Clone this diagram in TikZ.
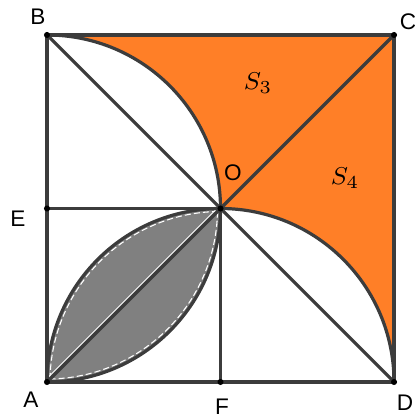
\documentclass[tikz,border=0pt]{standalone}
\usepackage{fontspec}
\setsansfont{Liberation Sans}
\usepackage{xcolor}
\usepackage{tikz}
\usetikzlibrary{calc}
\definecolor{geoorange}{RGB}{255,127,39}
\definecolor{geogray}{RGB}{128,128,128}
\definecolor{geoline}{RGB}{60,60,60}

\begin{document}
\begin{tikzpicture}[
  x=0.011527cm, y=0.011527cm,
  font=\sffamily\fontsize{7.4}{8}\selectfont,
  seg/.style={draw=geoline, line width=1.05pt},
  rim/.style={draw=white, line width=0.35pt, dash pattern=on 2pt off 1pt},
  pt/.style={fill=black, circle, inner sep=0pt, minimum size=2pt},
  lab/.style={inner sep=0pt},
  area/.style={inner sep=0pt, font=\fontsize{8.5}{9}\selectfont}
]
\useasboundingbox (-47,-37) rectangle (367,382);
\coordinate (A) at (0,0);
\coordinate (B) at (0,347);
\coordinate (C) at (347,347);
\coordinate (D) at (347,0);
\coordinate (E) at (0,173.5);
\coordinate (F) at (173.5,0);
\coordinate (O) at (173.5,173.5);
\fill[geoorange] (B) -- (C) -- (D) arc[start angle=0, end angle=90, radius=173.5] arc[start angle=0, end angle=90, radius=173.5] -- cycle;
\fill[geogray] (A) arc[start angle=-90, end angle=0, radius=173.5] arc[start angle=90, end angle=180, radius=173.5] -- cycle;
\draw[rim] ($(E)+(-1.03:170.5)$) arc[start angle=-1.03, end angle=-88.97, radius=170.5];
\draw[rim] ($(F)+(178.97:170.5)$) arc[start angle=178.97, end angle=91.03, radius=170.5];
\draw[white, line width=0.3pt] ($(A)+(-1.2,2.4)$) -- ($(O)+(-2.4,1.2)$);
\draw[seg] (A) -- (B) -- (C) -- (D) -- cycle;
\draw[seg] (B) -- (D);
\draw[seg] (A) -- (C);
\draw[seg] (E) -- (O) -- (F);
\draw[seg] (B) arc[start angle=90, end angle=-90, radius=173.5];
\draw[seg] (A) arc[start angle=180, end angle=0, radius=173.5];
\foreach \p in {A,B,C,D,E,F,O}{\node[pt] (d\p) at (\p) {};}
\node[lab] (lA) at (-16,-18) {A};
\node[lab] (lB) at (-9,365) {B};
\node[lab] (lC) at (361,360) {C};
\node[lab] (lD) at (358,-21) {D};
\node[lab] (lE) at (-29,163) {E};
\node[lab] (lF) at (175,-25) {F};
\node[lab] (lO) at (186,209) {O};
\node[area] (s3) at (211,299) {$S_3$};
\node[area] (s4) at (298,204) {$S_4$};
\end{tikzpicture}
\end{document}
